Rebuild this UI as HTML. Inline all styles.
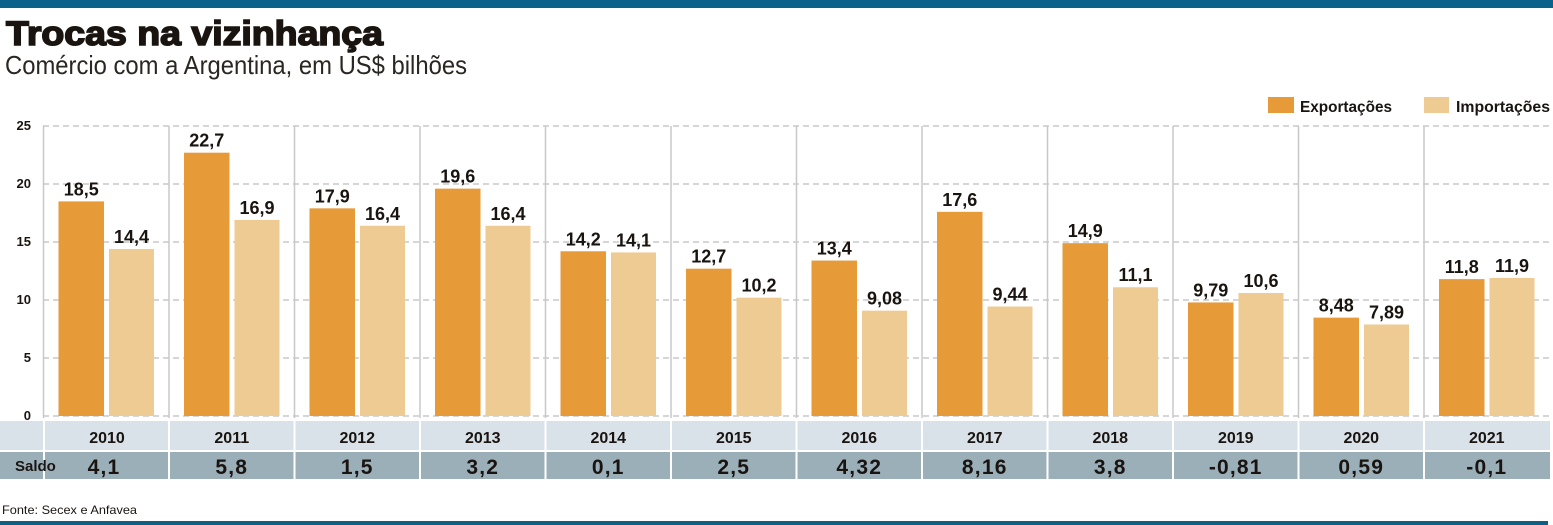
<!DOCTYPE html>
<html><head><meta charset="utf-8"><style>
html,body{margin:0;padding:0;background:#fff;}
svg{display:block;}
text{font-family:"Liberation Sans",sans-serif;}
</style></head><body>
<svg width="1553" height="525" viewBox="0 0 1553 525" xmlns="http://www.w3.org/2000/svg">
<rect x="0" y="0" width="1553" height="8" fill="#0a6189"/>
<text x="6" y="45" font-size="34" font-weight="bold" fill="#1a1410" textLength="377" lengthAdjust="spacingAndGlyphs" stroke="#1a1410" stroke-width="1.6">Trocas na vizinhança</text>
<text x="5" y="74" font-size="26" fill="#2a2622" textLength="462" lengthAdjust="spacingAndGlyphs">Comércio com a Argentina, em US$ bilhões</text>
<!-- legend -->
<rect x="1268" y="97" width="26" height="16" fill="#e69a38"/>
<text x="1300" y="112" font-size="16" font-weight="bold" fill="#1a1410" textLength="92" lengthAdjust="spacingAndGlyphs">Exportações</text>
<rect x="1424" y="97" width="25" height="16" fill="#eecb92"/>
<text x="1456" y="112" font-size="16" font-weight="bold" fill="#1a1410" textLength="94" lengthAdjust="spacingAndGlyphs">Importações</text>
<!-- gridlines -->
<g stroke="#bdbdbd" stroke-width="1.3" stroke-dasharray="6 4">
<line x1="43" y1="126" x2="1550" y2="126"/>
<line x1="43" y1="184" x2="1550" y2="184"/>
<line x1="43" y1="242" x2="1550" y2="242"/>
<line x1="43" y1="300" x2="1550" y2="300"/>
<line x1="43" y1="358" x2="1550" y2="358"/>
<line x1="43" y1="416" x2="1550" y2="416"/>
</g>
<g stroke="#c8c8c8" stroke-width="1.5">
<line x1="43.5" y1="126" x2="43.5" y2="418"/>
<line x1="169" y1="126" x2="169" y2="418"/>
<line x1="294.5" y1="126" x2="294.5" y2="418"/>
<line x1="420" y1="126" x2="420" y2="418"/>
<line x1="545.5" y1="126" x2="545.5" y2="418"/>
<line x1="671" y1="126" x2="671" y2="418"/>
<line x1="796.5" y1="126" x2="796.5" y2="418"/>
<line x1="922" y1="126" x2="922" y2="418"/>
<line x1="1047.5" y1="126" x2="1047.5" y2="418"/>
<line x1="1173" y1="126" x2="1173" y2="418"/>
<line x1="1298.5" y1="126" x2="1298.5" y2="418"/>
<line x1="1424" y1="126" x2="1424" y2="418"/>
</g>
<!-- y tick labels -->
<g font-size="13" font-weight="bold" fill="#1a1410" text-anchor="end">
<text x="31" y="130">25</text>
<text x="31" y="188">20</text>
<text x="31" y="246">15</text>
<text x="31" y="304">10</text>
<text x="31" y="362">5</text>
<text x="31" y="420">0</text>
</g>
<!-- export bars -->
<g fill="#e69a38">
<rect x="58.5" y="201.4" width="45.5" height="214.6"/>
<rect x="184" y="152.68" width="45.5" height="263.32"/>
<rect x="309.5" y="208.36" width="45.5" height="207.64"/>
<rect x="435" y="188.64" width="45.5" height="227.36"/>
<rect x="560.5" y="251.28" width="45.5" height="164.72"/>
<rect x="686" y="268.68" width="45.5" height="147.32"/>
<rect x="811.5" y="260.56" width="45.5" height="155.44"/>
<rect x="937" y="211.84" width="45.5" height="204.16"/>
<rect x="1062.5" y="243.16" width="45.5" height="172.84"/>
<rect x="1188" y="302.44" width="45.5" height="113.56"/>
<rect x="1313.5" y="317.63" width="45.5" height="98.37"/>
<rect x="1439" y="279.12" width="45.5" height="136.88"/>
</g>
<!-- import bars -->
<g fill="#eecb92">
<rect x="109" y="248.96" width="45" height="167.04"/>
<rect x="234.5" y="219.96" width="45" height="196.04"/>
<rect x="360" y="225.76" width="45" height="190.24"/>
<rect x="485.5" y="225.76" width="45" height="190.24"/>
<rect x="611" y="252.44" width="45" height="163.56"/>
<rect x="736.5" y="297.68" width="45" height="118.32"/>
<rect x="862" y="310.67" width="45" height="105.33"/>
<rect x="987.5" y="306.5" width="45" height="109.5"/>
<rect x="1113" y="287.24" width="45" height="128.76"/>
<rect x="1238.5" y="293.04" width="45" height="122.96"/>
<rect x="1364" y="324.48" width="45" height="91.52"/>
<rect x="1489.5" y="277.96" width="45" height="138.04"/>
</g>
<!-- value labels -->
<g font-size="18" font-weight="bold" fill="#1a1410" text-anchor="middle">
<text x="81.25" y="195.4">18,5</text>
<text x="131.5" y="242.96">14,4</text>
<text x="206.75" y="146.68">22,7</text>
<text x="257" y="213.96">16,9</text>
<text x="332.25" y="202.36">17,9</text>
<text x="382.5" y="219.76">16,4</text>
<text x="457.75" y="182.64">19,6</text>
<text x="508" y="219.76">16,4</text>
<text x="583.25" y="245.28">14,2</text>
<text x="633.5" y="246.44">14,1</text>
<text x="708.75" y="262.68">12,7</text>
<text x="759" y="291.68">10,2</text>
<text x="834.25" y="254.56">13,4</text>
<text x="884.5" y="304.67">9,08</text>
<text x="959.75" y="205.84">17,6</text>
<text x="1010" y="300.5">9,44</text>
<text x="1085.25" y="237.16">14,9</text>
<text x="1135.5" y="281.24">11,1</text>
<text x="1210.75" y="296.44">9,79</text>
<text x="1261" y="287.04">10,6</text>
<text x="1336.25" y="311.63">8,48</text>
<text x="1386.5" y="318.48">7,89</text>
<text x="1461.75" y="273.12">11,8</text>
<text x="1512" y="271.96">11,9</text>
</g>
<!-- bottom table -->
<rect x="0" y="421" width="1550" height="29" fill="#dae2e9"/>
<rect x="0" y="452" width="1550" height="27" fill="#9bafb9"/>
<g stroke="#ffffff" stroke-width="2">
<line x1="44" y1="421" x2="44" y2="479"/>
<line x1="169" y1="421" x2="169" y2="479"/>
<line x1="294.5" y1="421" x2="294.5" y2="479"/>
<line x1="420" y1="421" x2="420" y2="479"/>
<line x1="545.5" y1="421" x2="545.5" y2="479"/>
<line x1="671" y1="421" x2="671" y2="479"/>
<line x1="796.5" y1="421" x2="796.5" y2="479"/>
<line x1="922" y1="421" x2="922" y2="479"/>
<line x1="1047.5" y1="421" x2="1047.5" y2="479"/>
<line x1="1173" y1="421" x2="1173" y2="479"/>
<line x1="1298.5" y1="421" x2="1298.5" y2="479"/>
<line x1="1424" y1="421" x2="1424" y2="479"/>
</g>
<g font-size="16" font-weight="bold" fill="#1a1410" text-anchor="middle">
<text x="107" y="443">2010</text>
<text x="231.75" y="443">2011</text>
<text x="357.25" y="443">2012</text>
<text x="482.75" y="443">2013</text>
<text x="608.25" y="443">2014</text>
<text x="733.75" y="443">2015</text>
<text x="859.25" y="443">2016</text>
<text x="984.75" y="443">2017</text>
<text x="1110.25" y="443">2018</text>
<text x="1235.75" y="443">2019</text>
<text x="1361.25" y="443">2020</text>
<text x="1486.75" y="443">2021</text>
</g>
<text x="15" y="471" font-size="15" font-weight="bold" fill="#1a1410">Saldo</text>
<g font-size="21" font-weight="bold" fill="#1a1410" text-anchor="middle" letter-spacing="1.2">
<text x="104" y="474">4,1</text>
<text x="231.75" y="474">5,8</text>
<text x="357.25" y="474">1,5</text>
<text x="482.75" y="474">3,2</text>
<text x="608.25" y="474">0,1</text>
<text x="733.75" y="474">2,5</text>
<text x="859.25" y="474">4,32</text>
<text x="984.75" y="474">8,16</text>
<text x="1110.25" y="474">3,8</text>
<text x="1235.75" y="474">-0,81</text>
<text x="1361.25" y="474">0,59</text>
<text x="1486.75" y="474">-0,1</text>
</g>
<text x="2" y="514" font-size="12" fill="#1a1410" textLength="135" lengthAdjust="spacingAndGlyphs">Fonte: Secex e Anfavea</text>
<rect x="0" y="521" width="1548" height="4" fill="#0f5f85"/>
</svg>
</body></html>
